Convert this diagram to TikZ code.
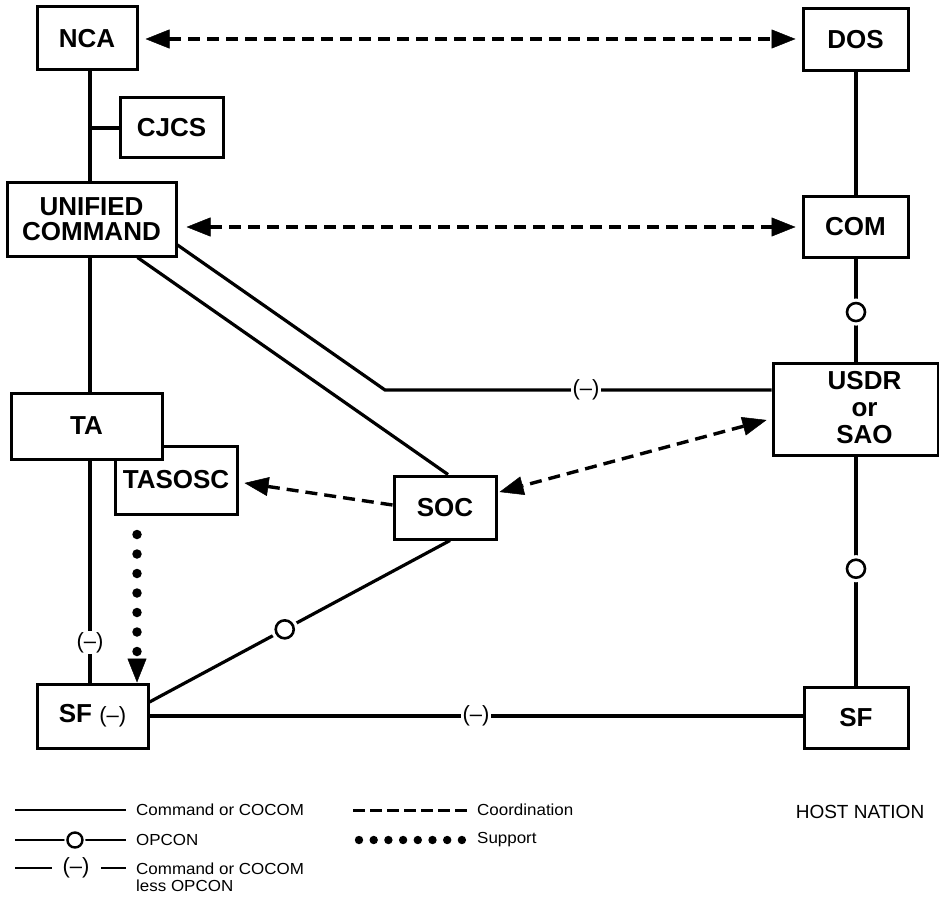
\documentclass[tikz,border=0pt]{standalone}
\usepackage{fontspec}
\setmainfont{Liberation Sans}
\newfontfamily\legfont[FakeStretch=1.06]{Liberation Sans}
\usetikzlibrary{arrows.meta,calc}

\begin{document}
\begin{tikzpicture}[x=1pt,y=-1pt,
 box/.style={draw, line width=3pt, fill=white, align=center, inner sep=0pt, font=\fontsize{26}{25}\selectfont\bfseries},
 boxtxt/.style={align=center, inner sep=0pt, font=\fontsize{26}{27}\selectfont\bfseries},
 ln/.style={line width=3.2pt},
 coordl/.style={line width=3.4pt, dash pattern=on 12pt off 7pt},
 tipend/.style={-{Triangle[length=24pt 0 0,width=19pt 0 0,line width=0.5pt 0 0]}},
 tipboth/.style={{Triangle[length=24pt 0 0,width=19pt 0 0,line width=0.5pt 0 0]}-{Triangle[length=24pt 0 0,width=19pt 0 0,line width=0.5pt 0 0]}},
 supp/.style={line width=9.5pt, line cap=round, dash pattern=on 0pt off 19.5pt},
 opc/.style={circle, draw, line width=2.6pt, fill=white, minimum size=18pt, inner sep=0pt, preaction={draw=white, line width=9pt}},
 less/.style={fill=white, inner sep=1.5pt, font=\fontsize{22}{22}\selectfont},
 leg/.style={font=\legfont\fontsize{16}{17}\selectfont, anchor=west, align=left, inner sep=0pt},
 legln/.style={line width=2.6pt},
 legcirc/.style={circle, draw, line width=2.4pt, fill=white, minimum size=15pt, inner sep=0pt, preaction={draw=white, line width=6pt}},
]
\useasboundingbox (0,0) rectangle (939,904);
\clip (0,0) rectangle (939,904);

% column coordinates
\coordinate (colL) at (90,0);
\coordinate (colR) at (856,0);
\coordinate (colD) at (137,0);
\coordinate (bend) at (385,390);

% nodes
\node[box, minimum width=100pt, minimum height=63pt] (nca) at (87,38.5) {NCA};
\node[box, minimum width=103pt, minimum height=60pt] (cjcs) at (171.5,128) {CJCS};
\node[box, minimum width=169pt, minimum height=73pt] (uc) at (91.5,219.5) {UNIFIED\\COMMAND};
\node[box, minimum width=105pt, minimum height=62pt] (dos) at (855.5,40) {DOS};
\node[box, minimum width=105pt, minimum height=60pt] (com) at (855.5,227) {COM};
\node[box, minimum width=165pt, minimum height=92pt] (usdr) at (855.5,409) {};
\node[boxtxt] (usdrt) at ([xshift=9pt,yshift=1pt]usdr.center) {USDR\\or\\SAO};
\node[box, minimum width=122pt, minimum height=68pt] (tasosc) at (176,480) {TASOSC};
\node[box, minimum width=151pt, minimum height=66pt] (ta) at (86.5,426) {TA};
\node[box, minimum width=102pt, minimum height=63pt] (soc) at (445,507.5) {SOC};
\node[box, minimum width=111pt, minimum height=64pt] (sfl) at (92.5,716) {SF {\mdseries\fontsize{22}{22}\selectfont(--)}};
\node[box, minimum width=104pt, minimum height=61pt] (sfr) at (856,717.5) {SF};

% left column (command)
\draw[ln] (nca.south -| colL) -- (uc.north -| colL);
\draw[ln] (cjcs.west) -- (cjcs.west -| colL);
\draw[ln] (uc.south -| colL) -- (ta.north -| colL);
\draw[ln] (ta.south -| colL) -- node[less, pos=0.82] {(--)} (sfl.north -| colL);

% right column
\draw[ln] (dos.south -| colR) -- (com.north -| colR);
\draw[ln] (com.south -| colR) -- node[opc, pos=0.52] {} (usdr.north -| colR);
\draw[ln] (usdr.south -| colR) -- node[opc, pos=0.49] {} (sfr.north -| colR);

% unified command lines
\draw[ln] ([yshift=-25.5pt]uc.east) -- (bend) -- node[less, pos=0.52] {(--)} (usdr.west |- bend);
\draw[ln] ([xshift=46pt]uc.south) -- ([xshift=3pt]soc.north);

% SOC to SF (OPCON)
\draw[ln] ([xshift=5pt]soc.south) -- node[opc, pos=0.55] {} ([yshift=14pt]sfl.east);

% SF to SF
\draw[ln] (sfl.east) -- node[less, pos=0.5] {(--)} (sfl.east -| sfr.west);

% coordination arrows
\draw[coordl, tipboth, shorten <=7pt, shorten >=6pt] ([yshift=-0.5pt]nca.east) -- ([yshift=-0.5pt]nca.east -| dos.west);
\draw[coordl, tipboth, shorten <=9pt, shorten >=6pt] (uc.east |- com.west) -- (com.west);
\draw[coordl, tipboth] ([xshift=-5pt,yshift=-11pt]usdr.west) -- ([xshift=2pt,yshift=15.5pt]soc.east);
\draw[coordl, tipend] ([yshift=2.5pt]soc.west) -- ([xshift=6pt,yshift=-3pt]tasosc.east);

% support
\draw[supp, tipend, shorten <=19pt] (tasosc.south -| colD) -- (sfl.north -| colD);

% legend
\coordinate (a1) at (15,810); \coordinate (b1) at (126,810);
\draw[legln] (a1) -- (b1);
\node[leg] (t1) at (136,810) {Command or COCOM};
\coordinate (a2) at (15,840); \coordinate (b2) at (126,840);
\draw[legln] (a2) -- node[legcirc, pos=0.54] {} (b2);
\node[leg] (t2) at (136,840) {OPCON};
\coordinate (a3) at (15,868); \coordinate (c3) at (52,868);
\coordinate (d3) at (101,868); \coordinate (b3) at (126,868);
\draw[legln] (a3) -- (c3);
\node[font=\fontsize{22}{22}\selectfont, inner sep=0pt] (m3) at (76,868) {(--)};
\draw[legln] (d3) -- (b3);
\node[leg] (t3) at (136,877) {Command or COCOM\\less OPCON};
\coordinate (a4) at (353,810); \coordinate (b4) at (468,810);
\draw[legln, line width=3pt, dash pattern=on 12pt off 5pt] (a4) -- (b4);
\node[leg] (t4) at (477,810) {Coordination};
\foreach \i in {0,...,7} \fill (359+\i*14.7,840) circle (4.2pt);
\node[leg] (t5) at (477,840) {Support};

\node[font=\fontsize{19}{19}\selectfont, inner sep=0pt] (host) at (860,812) {HOST NATION};
\end{tikzpicture}
\end{document}
